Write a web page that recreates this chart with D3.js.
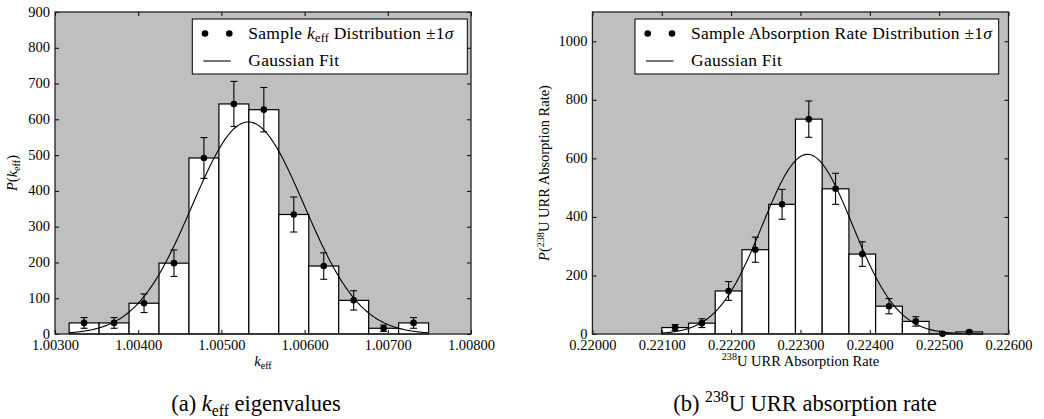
<!DOCTYPE html>
<html>
<head>
<meta charset="utf-8">
<script src="https://cdn.jsdelivr.net/npm/d3@7"></script>
<style>
  html, body { margin: 0; padding: 0; background: #fff; }
  svg { display: block; }
</style>
</head>
<body>
<svg id="fig" width="1044" height="419" font-family="Liberation Serif"></svg>
<script>
// ---- k_eff histogram (normalised), bin edges, ±1σ and Gaussian fit ----
const keffEdges = [1.00317, 1.00353, 1.00389, 1.00425, 1.00461, 1.00497, 1.00533,
                   1.00569, 1.00605, 1.00641, 1.00677, 1.00713, 1.00749];
const keffDensity = [31, 31, 86, 198, 492, 643, 627, 334, 190, 94, 16, 31];
const keffSigma   = [15, 15, 26, 37, 57, 63, 62, 49, 37, 27, 9, 15];
const keffFitMean = 1.005323;
const keffFitStd  = 0.000673;
const keffXTicks  = [1.003, 1.004, 1.005, 1.006, 1.007, 1.008];
const keffYTicks  = [0, 100, 200, 300, 400, 500, 600, 700, 800, 900];

// ---- 238U URR absorption rate histogram ----
const absEdges = [0.221000, 0.221386, 0.221771, 0.222157, 0.222542, 0.222928, 0.223313,
                  0.223699, 0.224084, 0.224470, 0.224855, 0.225241, 0.225626];
const absDensity = [22, 37, 147, 288, 443, 734, 496, 273, 95, 43, 1, 7];
const absSigma   = [10, 15, 32, 43, 51, 62, 53, 42, 26, 16, 2, 4];
const absFitMean = 0.223101;
const absFitStd  = 0.00065;
const absXTicks  = [0.220, 0.221, 0.222, 0.223, 0.224, 0.225, 0.226];
const absYTicks  = [0, 200, 400, 600, 800, 1000];

const FONT = "Liberation Serif";
const svg = d3.select("#fig");

// Append text made of styled pieces: {t, italic, sub, sup}
function richText(sel, parts, size) {
  sel.attr("font-family", FONT).attr("fill", "#000");
  let shift = 0; // current baseline offset
  parts.forEach(p => {
    const ts = sel.append("tspan").text(p.t);
    if (p.italic) ts.attr("font-style", "italic");
    let target = 0;
    if (p.sub) { ts.attr("font-size", size * 0.7); target = size * 0.22; }
    if (p.sup) { ts.attr("font-size", size * 0.7); target = -size * 0.38; }
    if (target - shift !== 0) ts.attr("dy", target - shift);
    shift = target;
  });
  return sel;
}

function gauss(x, m, s) {
  return Math.exp(-0.5 * ((x - m) / s) ** 2) / (s * Math.sqrt(2 * Math.PI));
}

function drawPanel(cfg) {
  const x = d3.scaleLinear().domain(cfg.xDomain).range(cfg.xRange);
  const y = d3.scaleLinear().domain(cfg.yDomain).range([334, 12]);
  const g = svg.append("g");
  const [x0, x1] = cfg.xRange;

  // plot background
  g.append("rect").attr("x", x0).attr("y", 12)
    .attr("width", x1 - x0).attr("height", 322).attr("fill", "#bfbfbf");

  const bins = cfg.density.map((v, i) => ({
    lo: cfg.edges[i], hi: cfg.edges[i + 1], v, e: cfg.sigma[i]
  }));

  // histogram bars
  g.selectAll("rect.bar").data(bins).enter().append("rect")
    .attr("class", "bar")
    .attr("x", d => x(d.lo)).attr("width", d => x(d.hi) - x(d.lo))
    .attr("y", d => y(d.v)).attr("height", d => y(0) - y(d.v))
    .attr("fill", "#fff").attr("stroke", "#000").attr("stroke-width", 1.2);

  // Gaussian fit curve across the binned range
  const lo = cfg.edges[0], hi = cfg.edges[cfg.edges.length - 1];
  const xs = d3.range(0, 301).map(i => lo + (hi - lo) * i / 300);
  g.append("path")
    .attr("d", d3.line().x(d => x(d)).y(d => y(gauss(d, cfg.mean, cfg.std)))(xs))
    .attr("fill", "none").attr("stroke", "#000").attr("stroke-width", 1.1);

  // error bars and markers at bin centres
  const eb = g.selectAll("g.eb").data(bins).enter().append("g").attr("class", "eb");
  const cx = d => x((d.lo + d.hi) / 2);
  eb.append("line").attr("x1", cx).attr("x2", cx)
    .attr("y1", d => y(d.v + d.e)).attr("y2", d => y(Math.max(0, d.v - d.e)))
    .attr("stroke", "#000").attr("stroke-width", 1.1);
  [1, -1].forEach(sgn => {
    eb.append("line")
      .attr("x1", d => cx(d) - 3.5).attr("x2", d => cx(d) + 3.5)
      .attr("y1", d => y(Math.max(0, d.v + sgn * d.e)))
      .attr("y2", d => y(Math.max(0, d.v + sgn * d.e)))
      .attr("stroke", "#000").attr("stroke-width", 1.1);
  });
  eb.append("circle").attr("cx", cx).attr("cy", d => y(d.v)).attr("r", 3.3).attr("fill", "#000");

  // axes with inward ticks
  const fmt = d3.format(".5f");
  const axB = g.append("g").attr("transform", "translate(0,334)")
    .call(d3.axisBottom(x).tickValues(cfg.xTicks).tickFormat(fmt).tickSize(-4).tickPadding(6));
  const axT = g.append("g").attr("transform", "translate(0,12)")
    .call(d3.axisTop(x).tickValues(cfg.xTicks).tickFormat("").tickSize(-4));
  const axL = g.append("g").attr("transform", `translate(${x0},0)`)
    .call(d3.axisLeft(y).tickValues(cfg.yTicks).tickFormat(d3.format("d")).tickSize(-4).tickPadding(5));
  const axR = g.append("g").attr("transform", `translate(${x1},0)`)
    .call(d3.axisRight(y).tickValues(cfg.yTicks).tickFormat("").tickSize(-4));
  [axB, axT, axL, axR].forEach(a => {
    a.attr("font-family", FONT).attr("font-size", 14.5);
    a.select(".domain").remove();
    a.selectAll(".tick line").attr("stroke", "#000").attr("stroke-width", 1);
    a.selectAll("text").attr("font-family", FONT).attr("font-size", 14.5).attr("fill", "#000");
  });
  axL.selectAll("text").attr("dy", "0.28em");

  // frame
  g.append("rect").attr("x", x0).attr("y", 12)
    .attr("width", x1 - x0).attr("height", 322)
    .attr("fill", "none").attr("stroke", "#222").attr("stroke-width", 1.3);

  // legend
  const L = cfg.legend;
  g.append("rect").attr("x", L.x).attr("y", 19).attr("width", L.w).attr("height", 55)
    .attr("fill", "#fff").attr("stroke", "#000").attr("stroke-width", 1);
  [L.x + 12.7, L.x + 37].forEach(px =>
    g.append("circle").attr("cx", px).attr("cy", 33.5).attr("r", 3.3).attr("fill", "#000"));
  g.append("line").attr("x1", L.x + 11).attr("x2", L.x + 38.5)
    .attr("y1", 61).attr("y2", 61).attr("stroke", "#000").attr("stroke-width", 1.1);
  richText(g.append("text").attr("x", L.x + 56).attr("y", 38.5).attr("font-size", 17.5)
    .attr("letter-spacing", 0.25), L.label, 17.5);
  richText(g.append("text").attr("x", L.x + 56).attr("y", 65.5).attr("font-size", 17.5)
    .attr("letter-spacing", 0.25), [{ t: "Gaussian Fit" }], 17.5);

  // axis titles
  richText(g.append("text").attr("x", (x0 + x1) / 2).attr("y", 366)
    .attr("text-anchor", "middle").attr("font-size", 14.5), cfg.xTitle, 14.5);
  richText(g.append("text").attr("transform", `translate(${cfg.yTitleX},173) rotate(-90)`)
    .attr("text-anchor", "middle").attr("font-size", 14.5), cfg.yTitle, 14.5);

  // caption
  richText(g.append("text").attr("x", cfg.capX).attr("y", 411)
    .attr("text-anchor", "middle").attr("font-size", 22.5), cfg.caption, 22.5);
}

drawPanel({
  edges: keffEdges, density: keffDensity, sigma: keffSigma,
  mean: keffFitMean, std: keffFitStd,
  xDomain: [1.003, 1.008], xRange: [55, 471], yDomain: [0, 900],
  xTicks: keffXTicks, yTicks: keffYTicks,
  legend: { x: 192.3, w: 275, label: [
    { t: "Sample " }, { t: "k", italic: true }, { t: "eff", sub: true },
    { t: " Distribution ±1" }, { t: "σ", italic: true }] },
  xTitle: [{ t: "k", italic: true }, { t: "eff", sub: true }],
  yTitle: [{ t: "P", italic: true }, { t: "(" }, { t: "k", italic: true }, { t: "eff", sub: true }, { t: ")" }],
  yTitleX: 17,
  capX: 256,
  caption: [{ t: "(a) " }, { t: "k", italic: true }, { t: "eff", sub: true }, { t: " eigenvalues" }]
});

drawPanel({
  edges: absEdges, density: absDensity, sigma: absSigma,
  mean: absFitMean, std: absFitStd,
  xDomain: [0.220, 0.226], xRange: [592.4, 1008.5], yDomain: [0, 1100],
  xTicks: absXTicks, yTicks: absYTicks,
  legend: { x: 635, w: 363.7, label: [
    { t: "Sample Absorption Rate Distribution ±1" }, { t: "σ", italic: true }] },
  xTitle: [{ t: "238", sup: true }, { t: "U URR Absorption Rate" }],
  yTitle: [{ t: "P", italic: true }, { t: "(" }, { t: "238", sup: true }, { t: "U URR Absorption Rate)" }],
  yTitleX: 549,
  capX: 805,
  caption: [{ t: "(b) " }, { t: "238", sup: true }, { t: "U URR absorption rate" }]
});
</script>
</body>
</html>
